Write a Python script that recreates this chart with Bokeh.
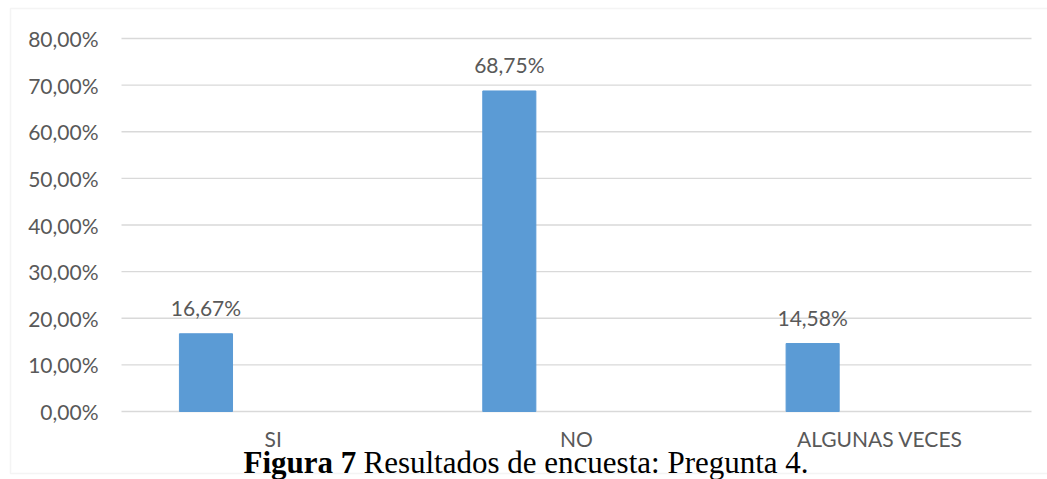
from bokeh.plotting import figure
from bokeh.models import (ColumnDataSource, Range1d, FixedTicker, LinearAxis,
                          CustomJSTickFormatter, LabelSet, Label, BoxAnnotation)
from bokeh.core.properties import value
from bokeh.embed import file_html
from bokeh.resources import INLINE

categories = ["SI", "NO", "ALGUNAS VECES"]
values = [16.67, 68.75, 14.58]
value_labels = ["16,67%", "68,75%", "14,58%"]
y_ticks = [0, 10, 20, 30, 40, 50, 60, 70, 80]
caption_bold = "Figura 7"
caption_rest = "Resultados de encuesta: Pregunta 4."

W, H = 1047, 479
PLOT_L, PLOT_R, PLOT_T, PLOT_B = 121, 1031, 38, 411   # plot-area pixels
TEXT = "#595959"
FONT = "Lato"
FS = "21px"
GRID = "#d9d9d9"
BAR_SHIFT = -0.2215
BAR_W = 0.175

n = len(categories)
ymax = y_ticks[-1]
ppx = (PLOT_R - PLOT_L) / n          # pixels per category
ppy = (PLOT_B - PLOT_T) / ymax        # pixels per percent
x_range = Range1d(-PLOT_L / ppx, n + (W - PLOT_R) / ppx)
y_range = Range1d(-(H - PLOT_B) / ppy, ymax + PLOT_T / ppy)

cat_x = [i + 0.5 for i in range(n)]
bar_x = [c + BAR_SHIFT for c in cat_x]
src = ColumnDataSource(dict(x=bar_x, val=values, lab=value_labels))

p = figure(width=W, height=H, x_range=x_range, y_range=y_range,
           x_axis_location=None, y_axis_location=None, min_border=0,
           output_backend="svg", toolbar_location=None)
p.outline_line_color = None
p.background_fill_color = "white"
p.border_fill_color = "white"
p.grid.visible = False

# chart border
border = BoxAnnotation(left=10, right=W + 50, bottom=H - 473, top=H - 8,
                       left_units="screen", right_units="screen",
                       bottom_units="screen", top_units="screen",
                       fill_alpha=0, line_color=GRID, line_width=1.5, level="underlay")
p.add_layout(border)

# horizontal gridlines at the tick values
p.segment(x0=[0] * len(y_ticks), x1=[n] * len(y_ticks), y0=y_ticks, y1=y_ticks,
          line_color=GRID, line_width=1.3)

yax = LinearAxis(fixed_location=0, bounds=(0, ymax), ticker=FixedTicker(ticks=y_ticks),
                 formatter=CustomJSTickFormatter(code="return tick.toFixed(2).replace('.', ',') + '%';"))
yax.axis_line_color = None
yax.major_tick_line_color = None
yax.minor_tick_line_color = None
yax.major_tick_in = 0
yax.major_tick_out = 0
yax.major_label_standoff = 23
p.add_layout(yax, "left")

xax = LinearAxis(fixed_location=0, bounds=(0, n), ticker=FixedTicker(ticks=cat_x),
                 formatter=CustomJSTickFormatter(args=dict(cats=categories), code="return cats[index];"))
xax.axis_line_color = None
xax.major_tick_line_color = None
xax.minor_tick_line_color = None
xax.major_tick_in = 0
xax.major_tick_out = 0
xax.major_label_standoff = 14
p.add_layout(xax, "below")

for ax in (xax, yax):
    ax.major_label_text_font = FONT
    ax.major_label_text_font_size = FS
    ax.major_label_text_color = TEXT

p.vbar(x="x", top="val", width=BAR_W, source=src, fill_color="#5b9bd5", line_color="#5b9bd5")

labels = LabelSet(x="x", y="val", text="lab", source=src, text_align="center",
                  text_baseline="alphabetic", y_offset=18, text_font=value(FONT),
                  text_font_size=value(FS), text_color=value(TEXT))
p.add_layout(labels)

CAP_Y = H - 462
cap1 = Label(x=243, y=CAP_Y, x_units="screen", y_units="screen", text=caption_bold,
             text_font="Liberation Serif", text_font_style="bold", text_font_size="31px",
             text_color="black", text_baseline="alphabetic", text_align="left")
cap2 = Label(x=363, y=CAP_Y, x_units="screen", y_units="screen", text=caption_rest,
             text_font="Liberation Serif", text_font_size="31px",
             text_color="black", text_baseline="alphabetic", text_align="left")
p.add_layout(cap1)
p.add_layout(cap2)

open("out.html", "w").write(file_html(p, INLINE))
